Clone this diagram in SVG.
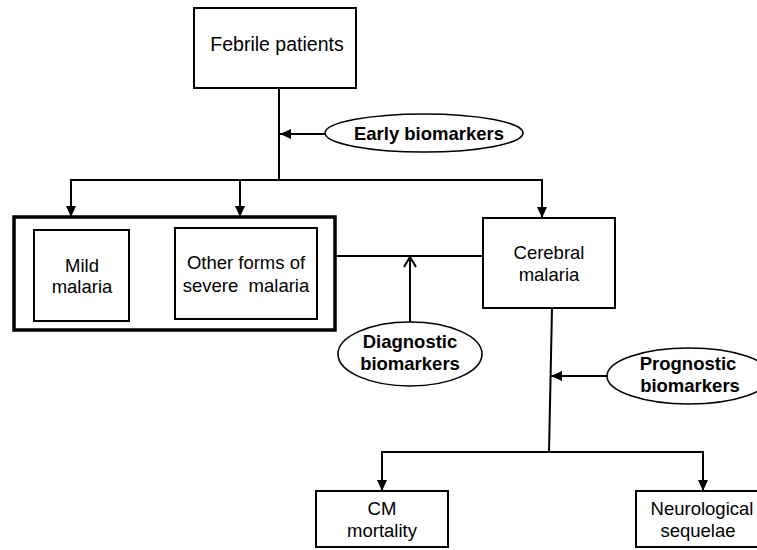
<svg xmlns="http://www.w3.org/2000/svg" width="757" height="550" viewBox="0 0 757 550">
<style>
.box{fill:#fff;stroke:#000;stroke-width:2}
.outer{fill:#fff;stroke:#000;stroke-width:3.5}
.bio{fill:#fff;stroke:#000;stroke-width:1.6}
.t{font-family:"Liberation Sans",Arial,sans-serif;font-size:18.5px;fill:#000;text-anchor:middle}
.b{font-weight:bold}
.ln{fill:none;stroke:#000;stroke-width:2}
</style>
<defs>
<marker id="ah" markerUnits="userSpaceOnUse" markerWidth="12" markerHeight="12" viewBox="0 0 12 12" refX="11" refY="6" orient="auto">
<path d="M0,1 L11,6 L0,11 z" fill="#000"/>
</marker>
<marker id="oh" markerUnits="userSpaceOnUse" markerWidth="14" markerHeight="14" viewBox="0 0 14 14" refX="12" refY="7" orient="auto">
<path d="M2,1 L12,7 L2,13" fill="none" stroke="#000" stroke-width="2"/>
</marker>
</defs>

<g id="connectors">
<line class="ln" x1="279" y1="88" x2="279" y2="180"/>
<line class="ln" x1="70" y1="180" x2="543" y2="180"/>
<line class="ln" x1="71" y1="180" x2="71" y2="217" marker-end="url(#ah)"/>
<line class="ln" x1="240" y1="180" x2="240" y2="217" marker-end="url(#ah)"/>
<line class="ln" x1="542" y1="180" x2="542" y2="218" marker-end="url(#ah)"/>
<line class="ln" x1="326" y1="134" x2="280" y2="134" marker-end="url(#ah)"/>
<line class="ln" x1="335" y1="256" x2="483" y2="256"/>
<line class="ln" x1="410" y1="322" x2="410" y2="257" marker-end="url(#oh)"/>
<line class="ln" x1="552" y1="308" x2="549" y2="452"/>
<line class="ln" x1="607" y1="376" x2="551" y2="376" marker-end="url(#ah)"/>
<line class="ln" x1="381" y1="452" x2="704" y2="452"/>
<line class="ln" x1="382" y1="452" x2="382" y2="491" marker-end="url(#ah)"/>
<line class="ln" x1="703" y1="452" x2="703" y2="491" marker-end="url(#ah)"/>
</g>

<g id="febrile">
<rect class="box" x="194" y="8" width="162" height="80"/>
<text class="t" x="277" y="51" style="font-size:19.5px">Febrile patients</text>
</g>

<g id="early">
<ellipse class="bio" cx="424" cy="133" rx="99" ry="19"/>
<text class="t b" x="429" y="140">Early biomarkers</text>
</g>

<g id="group-box">
<rect class="outer" x="14" y="217" width="321" height="113"/>
</g>

<g id="mild">
<rect class="box" x="34" y="230" width="95" height="91"/>
<text class="t" x="82" y="272">Mild</text>
<text class="t" x="82" y="293">malaria</text>
</g>

<g id="other">
<rect class="box" x="175" y="228" width="142" height="91"/>
<text class="t" x="246" y="269">Other forms of</text>
<text class="t" x="246" y="292" xml:space="preserve">severe  malaria</text>
</g>

<g id="cerebral">
<rect class="box" x="483" y="218" width="132" height="90"/>
<text class="t" x="549" y="259">Cerebral</text>
<text class="t" x="549" y="281">malaria</text>
</g>

<g id="diagnostic">
<ellipse class="bio" cx="410" cy="354" rx="72" ry="32"/>
<text class="t b" x="410" y="348">Diagnostic</text>
<text class="t b" x="410" y="370">biomarkers</text>
</g>

<g id="prognostic">
<ellipse class="bio" cx="689" cy="376" rx="82" ry="28"/>
<text class="t b" x="688" y="370">Prognostic</text>
<text class="t b" x="690" y="392">biomarkers</text>
</g>

<g id="cm-mortality">
<rect class="box" x="316" y="491" width="132" height="56"/>
<text class="t" x="382" y="515">CM</text>
<text class="t" x="382" y="537">mortality</text>
</g>

<g id="neuro">
<rect class="box" x="636" y="491" width="140" height="56"/>
<text class="t" x="702" y="515">Neurological</text>
<text class="t" x="698" y="537">sequelae</text>
</g>
</svg>
